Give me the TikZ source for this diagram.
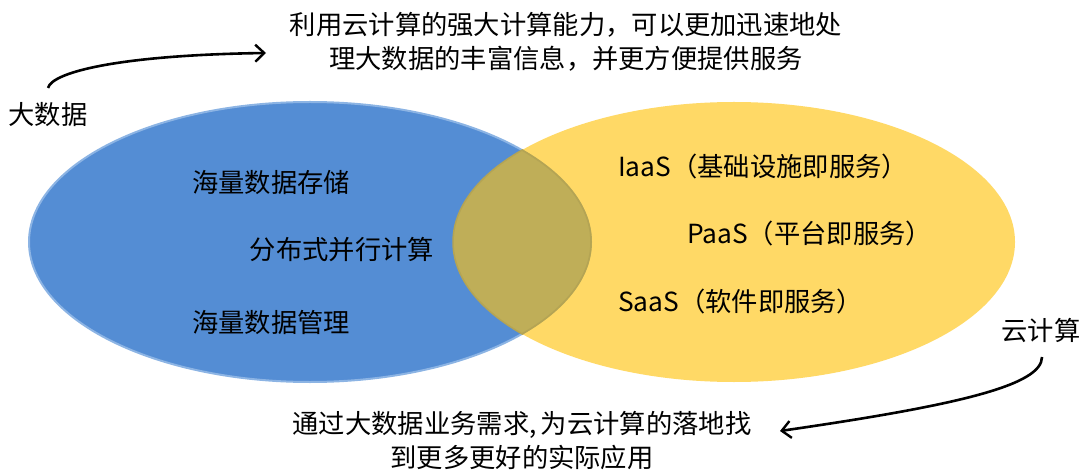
\documentclass[tikz,border=0pt]{standalone}
\usepackage{fontspec}
\setmainfont{Noto Sans CJK SC}
\usetikzlibrary{arrows.meta}
\definecolor{bluefill}{RGB}{84,141,212}
\definecolor{blueedge}{RGB}{140,180,228}
\definecolor{yellowfill}{RGB}{255,217,102}
\definecolor{overlapfill}{RGB}{191,174,88}
\definecolor{overlapedge}{RGB}{180,164,84}
\begin{document}
\begin{tikzpicture}[x=1pt,y=-1pt,
  lbl/.style={inner sep=0pt, font=\fontsize{26.3}{34}\selectfont, align=center},
  conn/.style={line width=2.6pt, -{Straight Barb[length=9pt,width=17pt,line width=2.4pt]}}]
\useasboundingbox (0,0) rectangle (1086,470);
% ellipses
\fill[bluefill] (310,242) ellipse [x radius=281, y radius=140];
\draw[blueedge, line width=2pt] (310,242) ellipse [x radius=281, y radius=140];
\fill[yellowfill] (734,242) ellipse [x radius=281, y radius=140];
\begin{scope}
  \clip (310,242) ellipse [x radius=282, y radius=141];
  \fill[overlapfill] (734,242) ellipse [x radius=281, y radius=140];
  \draw[overlapedge, line width=1.5pt] (734,242) ellipse [x radius=281, y radius=140];
\end{scope}
\begin{scope}
  \clip (734,242) ellipse [x radius=281, y radius=140];
  \draw[overlapedge, line width=1.5pt] (310,242) ellipse [x radius=281, y radius=140];
\end{scope}
% texts
\node[lbl] (bd) at (48,115) {大数据};
\node[lbl] (yjs) at (1041,330) {云计算};
\node[lbl] (top) at (566,42) {利用云计算的强大计算能力，可以更加迅速地处\\理大数据的丰富信息，并更方便提供服务};
\node[lbl] (bot) at (522,441) {通过大数据业务需求,\,为云计算的落地找\\到更多更好的实际应用};
\node[lbl] (cc) at (271,183) {海量数据存储};
\node[lbl] (fb) at (342,250) {分布式并行计算};
\node[lbl] (gl) at (271,322) {海量数据管理};
\node[lbl, anchor=west] (iaas) at (618,167) {IaaS（基础设施即服务）};
\node[lbl, anchor=west] (paas) at (687,234) {PaaS（平台即服务）};
\node[lbl, anchor=west] (saas) at (618,302) {SaaS（软件即服务）};
% connectors
\coordinate (a1s) at (48,88);
\coordinate (a1e) at (266,53);
\coordinate (a2s) at (1042,357);
\coordinate (a2e) at (780,431);
\draw[conn] (a1s) .. controls (52,72) and (120,55) .. (a1e);
\draw[conn] (a2s) .. controls (1042,385) and (960,405) .. (a2e);
\end{tikzpicture}
\end{document}
